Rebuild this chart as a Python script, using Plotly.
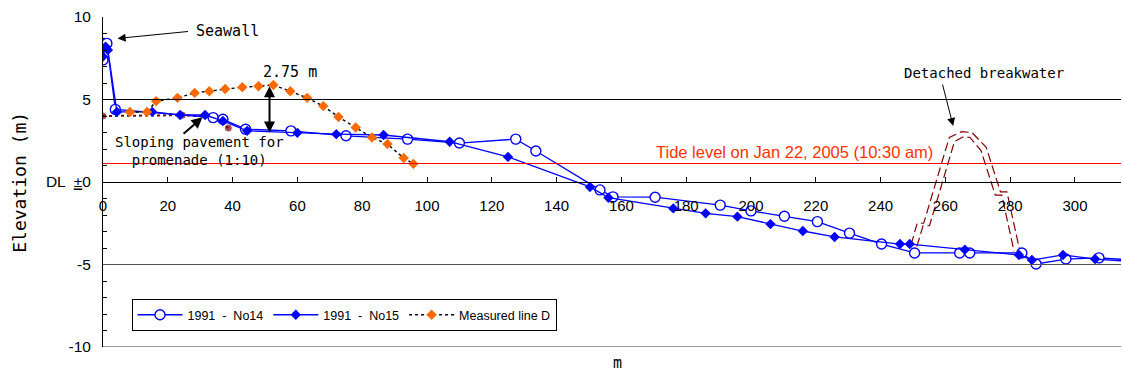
import plotly.graph_objects as go

# Cross-shore profile survey 1991, line No14
no14_x = [0, 0.3, 1.2, 3.8, 34, 37, 44, 58, 75, 94, 110, 127.4, 133.6, 153.4, 157.4,
          170.4, 190.5, 200, 210.3, 220.5, 230.4, 240.3, 250.5, 264.4, 267.5, 283.6,
          288, 297.2, 307.4, 320]
no14_y = [7.4, 8.4, 8.4, 4.4, 3.9, 3.8, 3.2, 3.1, 2.8, 2.6, 2.36, 2.6, 1.88, -0.48, -0.9,
          -0.92, -1.4, -1.75, -2.08, -2.4, -3.1, -3.76, -4.3, -4.3, -4.3, -4.3,
          -4.97, -4.67, -4.6, -4.75]

# Cross-shore profile survey 1991, line No15
no15_x = [0, 0.8, 1.5, 4.3, 15.2, 23.8, 31.5, 37, 44.5, 60, 72, 86.6, 107, 125, 150.3,
          156, 176, 186, 195.8, 206, 216, 225.8, 246, 249, 266, 282.7, 286.7, 296.3,
          306.2, 320]
no15_y = [7.6, 8.2, 8.0, 4.25, 4.25, 4.06, 4.06, 3.7, 3.1, 2.98, 2.9, 2.85, 2.44, 1.52,
          -0.3, -0.95, -1.6, -1.9, -2.1, -2.55, -2.97, -3.33, -3.76, -3.76, -4.1,
          -4.42, -4.73, -4.42, -4.67, -4.85]

# Measured line D
lineD_x = [8.3, 13.6, 16.4, 23, 28.3, 32.8, 37.7, 43, 48, 52.6, 57.8, 63, 68, 72.7, 78,
           83, 87.8, 92.8, 95.8]
lineD_y = [4.24, 4.24, 4.9, 5.1, 5.4, 5.5, 5.64, 5.75, 5.8, 5.88, 5.5, 5.1, 4.6, 3.94,
           3.3, 2.7, 2.3, 1.45, 1.1]

# Sloping pavement for promenade
pave_x = [0, 24.5, 34, 38.7]
pave_y = [4.0, 4.05, 3.95, 3.27]
pave_size = [8, 8, 0, 8]

# Detached breakwater outline (outer and inner edges)
bw_outer_x = [249.4, 251.3, 253.3, 261.2, 265, 268.2, 272.6, 277.0, 279.0, 283.0]
bw_outer_y = [-3.8, -2.5, -2.5, 2.7, 3.05, 3.0, 2.1, -0.6, -0.6, -4.2]
bw_inner_x = [251.2, 253.1, 255.1, 262.8, 265.6, 267.6, 271.0, 275.4, 277.4, 281.2]
bw_inner_y = [-3.9, -2.65, -2.65, 2.45, 2.75, 2.7, 1.9, -0.8, -0.8, -4.2]

tide_level = 1.12
x_max = 314.2
y_ticks = [10, 5, 0, -5, -10]
y_tick_text = ["10", "5", "DL  <u>±</u>0", "-5", "-10"]

BLUE = "#0000FF"
ORANGE = "#FF6A00"
DARKRED = "#800000"
MONO = "DejaVu Sans Mono"
SANS = "Liberation Sans, Arial, sans-serif"

fig = go.Figure()

for bx, by in ((bw_outer_x, bw_outer_y), (bw_inner_x, bw_inner_y)):
    fig.add_trace(go.Scatter(
        x=bx, y=by, mode="lines", showlegend=False,
        line=dict(color=DARKRED, width=1.2, dash="9px,4px")))

fig.add_trace(go.Scatter(
    x=pave_x, y=pave_y, mode="lines+markers", showlegend=False,
    line=dict(color=DARKRED, width=2, dash="dot"),
    marker=dict(color=DARKRED, size=pave_size, symbol="circle")))

fig.add_trace(go.Scatter(
    x=no14_x, y=no14_y, mode="lines+markers", name="1991  -  No14",
    line=dict(color=BLUE, width=1.3),
    marker=dict(symbol="circle", size=10, color="white",
                line=dict(color=BLUE, width=1.4))))
fig.add_trace(go.Scatter(
    x=no15_x, y=no15_y, mode="lines+markers", name="1991  -  No15",
    line=dict(color=BLUE, width=1.3),
    marker=dict(symbol="diamond", size=8, color=BLUE)))
fig.add_trace(go.Scatter(
    x=lineD_x, y=lineD_y, mode="lines+markers", name="Measured line D",
    line=dict(color="black", width=1.4, dash="dot"),
    marker=dict(symbol="diamond", size=8, color=ORANGE)))

# Reference lines
shapes = [
    dict(type="line", xref="x", yref="y", x0=0, x1=x_max, y0=5, y1=5,
         line=dict(color="black", width=1)),
    dict(type="line", xref="x", yref="y", x0=0, x1=x_max, y0=-5, y1=-5,
         line=dict(color="#555555", width=1)),
    dict(type="line", xref="x", yref="y", x0=0, x1=x_max, y0=-10, y1=-10,
         line=dict(color="#777777", width=1.5)),
    dict(type="line", xref="x", yref="y", x0=0, x1=x_max, y0=tide_level, y1=tide_level,
         line=dict(color="#FF0000", width=1.2)),
]

annotations = [
    # Seawall
    dict(x=4.5, y=8.7, ax=26.7, ay=9.13, xref="x", yref="y", axref="x", ayref="y",
         text="", showarrow=True, arrowhead=2, arrowsize=1.6, arrowwidth=1,
         arrowcolor="black"),
    dict(x=38.5, y=9.15, xref="x", yref="y", text="Seawall", showarrow=False,
         font=dict(family=MONO, size=15, color="black")),
    # 2.75 m height difference
    dict(x=51.4, y=3.0, ax=51.4, ay=5.9, xref="x", yref="y", axref="x", ayref="y",
         text="", showarrow=True, arrowhead=2, arrowside="end+start", arrowsize=1.1,
         arrowwidth=2, arrowcolor="black"),
    dict(x=57.8, y=6.65, xref="x", yref="y", text="2.75 m", showarrow=False,
         font=dict(family=MONO, size=15, color="black")),
    # Sloping pavement
    dict(x=30.7, y=3.92, ax=24.4, ay=2.85, xref="x", yref="y", axref="x", ayref="y",
         text="", showarrow=True, arrowhead=2, arrowsize=1.1, arrowwidth=2,
         arrowcolor="black"),
    dict(x=29.8, y=1.85, xref="x", yref="y",
         text="Sloping pavement for<br>promenade (1:10)", showarrow=False,
         font=dict(family=MONO, size=14, color="black")),
    # Detached breakwater
    dict(x=262.4, y=3.4, ax=259, ay=6.0, xref="x", yref="y", axref="x", ayref="y",
         text="", showarrow=True, arrowhead=2, arrowsize=1.6, arrowwidth=1,
         arrowcolor="black"),
    dict(x=272, y=6.6, xref="x", yref="y", text="Detached breakwater", showarrow=False,
         font=dict(family=MONO, size=14, color="black")),
    # Tide level
    dict(x=213.4, y=1.8, xref="x", yref="y",
         text="Tide level on Jan 22, 2005 (10:30 am)", showarrow=False,
         font=dict(family=SANS, size=16.5, color="#FF3300")),
    # Axis titles
    dict(x=-0.095, y=0.5, xref="paper", yref="paper", text="Elevation (m)",
         textangle=-90, showarrow=False,
         font=dict(family=MONO, size=18, color="black")),
    dict(x=0.505, y=-0.079, xref="paper", yref="paper", text="m", showarrow=False,
         yanchor="bottom", borderpad=0,
         font=dict(family=MONO, size=15, color="black")),
]

fig.update_layout(
    width=1122, height=374,
    margin=dict(l=103, r=1, t=17, b=27),
    paper_bgcolor="white", plot_bgcolor="white",
    shapes=shapes, annotations=annotations,
    legend=dict(x=0.028, y=0.145, xanchor="left", yanchor="top",
                orientation="h", bgcolor="white", bordercolor="black",
                borderwidth=1, itemwidth=45,
                font=dict(family=SANS, size=12.5, color="black"),
                tracegroupgap=0),
    xaxis=dict(range=[0, x_max], anchor="free", position=0.5,
               tickmode="linear", tick0=0, dtick=20,
               showgrid=False, zeroline=False,
               showline=True, linecolor="black", linewidth=1,
               ticks="inside", ticklen=5, tickcolor="black",
               ticklabelstandoff=10,
               tickfont=dict(family=SANS, size=15, color="black")),
    yaxis=dict(range=[-10, 10], tickvals=y_ticks, ticktext=y_tick_text,
               showgrid=False, zeroline=False,
               showline=True, linecolor="black", linewidth=1,
               ticks="inside", ticklen=4, tickcolor="black",
               ticklabelstandoff=8,
               minor=dict(dtick=1, ticks="inside", ticklen=4, tickcolor="black",
                          showgrid=False),
               tickfont=dict(family=SANS, size=15.5, color="black")),
)

fig.write_html("out.html")
